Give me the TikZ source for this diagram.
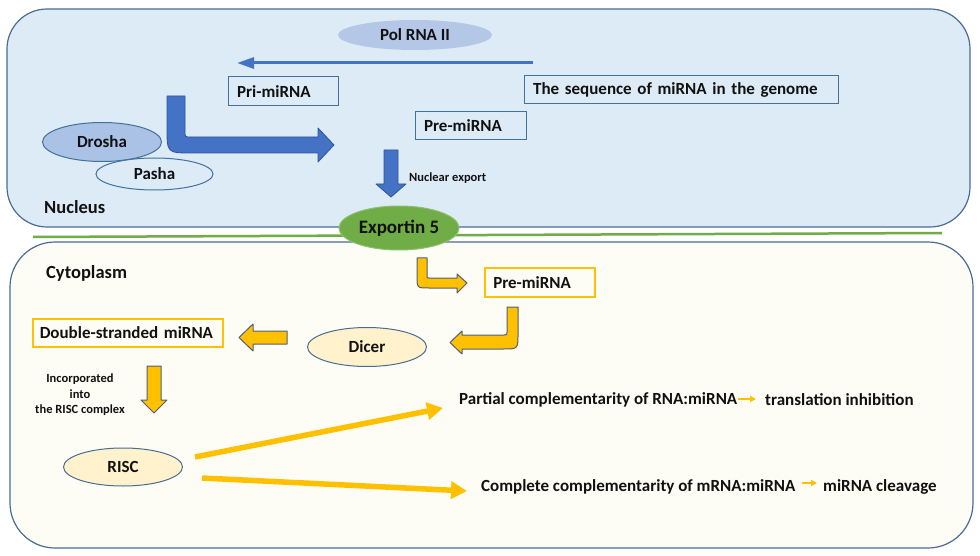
\documentclass[tikz,border=0pt]{standalone}
\usepackage{fontspec}
\setmainfont{Carlito}
\usetikzlibrary{shapes.geometric,arrows.meta}
\definecolor{nucfill}{HTML}{DDEBF7}
\definecolor{frame}{HTML}{4A6C94}
\definecolor{boxblue}{HTML}{41719C}
\definecolor{polfill}{HTML}{B4C7E7}
\definecolor{drofill}{HTML}{A9C2E6}
\definecolor{arrblue}{HTML}{4472C4}
\definecolor{arrblueline}{HTML}{2F5597}
\definecolor{grn}{HTML}{70AD47}
\definecolor{grnline}{HTML}{8CC06A}
\definecolor{cytfill}{HTML}{FEFDF5}
\definecolor{yel}{HTML}{FFC000}
\definecolor{yelline}{HTML}{4F5F7A}
\definecolor{creme}{HTML}{FFF2CC}
\definecolor{txt}{HTML}{111111}
\newcommand\myfmain{\fontsize{17}{19}\selectfont\bfseries}
\newcommand\myfbig{\fontsize{18.5}{21}\selectfont\bfseries}
\newcommand\myfexp{\fontsize{19}{22}\selectfont\bfseries}
\newcommand\myfsmall{\fontsize{12.5}{15.5}\selectfont\bfseries}
\begin{document}
\begin{tikzpicture}[x=1pt,y=-1pt,
  every node/.style={text=txt},
  rbox/.style={anchor=north west, line width=1.2pt, inner xsep=8.5pt, inner ysep=0pt, align=left, font=\myfmain},
  ell/.style={ellipse, inner sep=0pt, line width=1pt, font=\myfmain},
  plain/.style={inner sep=0pt, font=\myfmain},
  blockblue/.style={fill=arrblue, draw=arrblueline, line width=0.8pt, line join=round},
  blockyel/.style={fill=yel, draw=yelline, line width=1pt, line join=round},
  thickyel/.style={draw=yel, line width=5.5pt, -{Triangle[length=16pt,width=17pt]}},
  smallyel/.style={draw=yel, line width=1.5pt, -{Triangle[length=6pt,width=6pt]}}]
\fill[white] (0,0) rectangle (980,556);
\useasboundingbox (0,0) rectangle (980,556);

% compartments
\draw[fill=nucfill, draw=frame, line width=1.2pt, rounded corners=40pt] (7,9) rectangle (970,227);
\coordinate (gl) at (33,237);
\coordinate (gr) at (942,233);
\draw[grn, line width=2.5pt] (gl) -- (gr);
\draw[fill=cytfill, draw=frame, line width=1.2pt, rounded corners=45pt] (10,242) rectangle (973,548);

% nucleus content
\node[ell, fill=polfill, minimum width=154pt, minimum height=30pt] (pol) at (415,35) {Pol RNA II};
\coordinate (pols) at (533,63);
\coordinate (pole) at (237,63);
\draw[arrblue, line width=3pt, -{Triangle[length=17pt,width=11pt]}] (pols) -- (pole);

\node[rbox, draw=boxblue, text width=93pt, minimum height=29pt] (pri) at (228,76) {Pri-miRNA};
\node[rbox, draw=boxblue, text width=297pt, minimum height=28pt] (seq) at (524,75) {The sequence of miRNA in the genome};
\node[rbox, draw=boxblue, text width=94pt, minimum height=28pt] (pre1) at (415,111) {Pre-miRNA};

\node[ell, fill=drofill, draw=boxblue, minimum width=119pt, minimum height=39pt] (drosha) at (102,142) {Drosha};
\node[ell, draw=boxblue, minimum width=117pt, minimum height=32pt] (pasha) at (154.5,174) {Pasha};

\filldraw[blockblue] (167,96) -- (185,96) -- (185,131) .. controls (185,137) .. (191,137) -- (318,137) -- (318,128) -- (334,145) -- (318,162) -- (318,153) -- (192,153) .. controls (167,153) .. (167,128) -- cycle;

\filldraw[blockblue] (384,150) -- (398,150) -- (398,184) -- (406,184) -- (391,197) -- (376,184) -- (384,184) -- cycle;
\node[plain, anchor=west, font=\myfsmall] (nexp) at (409,178) {Nuclear export};

\node[plain, anchor=west, font=\myfbig] (nuc) at (44,207) {Nucleus};

\node[ell, fill=grn, draw=grnline, minimum width=120pt, minimum height=44pt, font=\myfexp] (exp) at (399,228) {Exportin 5};

% cytoplasm content
\node[plain, anchor=west, font=\myfbig] (cyt) at (46,273) {Cytoplasm};

\filldraw[blockyel] (417,258) -- (427,258) -- (427,276) .. controls (427,278) .. (429,278) -- (457,278) -- (457,274) -- (467,283) -- (457,293) -- (457,288) -- (429,288) .. controls (417,288) .. (417,276) -- cycle;

\node[rbox, draw=yel, line width=1.5pt, text width=93pt, minimum height=29pt] (pre2) at (484,267) {Pre-miRNA};

\filldraw[blockyel] (518,307) -- (507,307) -- (507,332) .. controls (507,335) .. (504,335) -- (462,335) -- (462,331) -- (450,342.5) -- (462,354) -- (462,349) -- (503,349) .. controls (518,349) .. (518,334) -- cycle;

\node[ell, fill=creme, draw=frame, minimum width=119pt, minimum height=39pt] (dicer) at (367,347) {Dicer};

\filldraw[blockyel] (287,331) -- (253,331) -- (253,324) -- (239,337.5) -- (253,351) -- (253,344) -- (287,344) -- cycle;

\node[rbox, draw=yel, line width=1.5pt, inner xsep=7pt, text width=176pt, minimum height=28pt] (ds) at (32,318) {\mbox{Double-stranded miRNA}};

\filldraw[blockyel] (147,366) -- (161,366) -- (161,400) -- (167,400) -- (154,413) -- (141,400) -- (147,400) -- cycle;

\node[plain, align=center, font=\myfsmall] (inc) at (80,395) {Incorporated\\into\\the RISC complex};

\node[ell, fill=creme, draw=frame, minimum width=119pt, minimum height=38pt] (risc) at (123,467) {RISC};

\coordinate (r1s) at (195,457);
\coordinate (r1e) at (443,408);
\coordinate (r2s) at (202,478);
\coordinate (r2e) at (467,491);
\draw[thickyel] (r1s) -- (r1e);
\draw[thickyel] (r2s) -- (r2e);

\node[plain, anchor=west] (partial) at (459,400) {Partial complementarity of RNA:miRNA};
\node[plain, anchor=west] (transl) at (765,400) {translation inhibition};
\draw[smallyel] ([xshift=1pt,yshift=1pt]partial.east) -- ([xshift=-9pt,yshift=1pt]transl.west);

\node[plain, anchor=west] (compl) at (481,487) {Complete complementarity of mRNA:miRNA};
\node[plain, anchor=west] (cleav) at (823,487) {miRNA cleavage};
\draw[smallyel] ([xshift=6pt,yshift=4pt]compl.east) -- ([xshift=-6pt,yshift=4pt]cleav.west);
\end{tikzpicture}
\end{document}
